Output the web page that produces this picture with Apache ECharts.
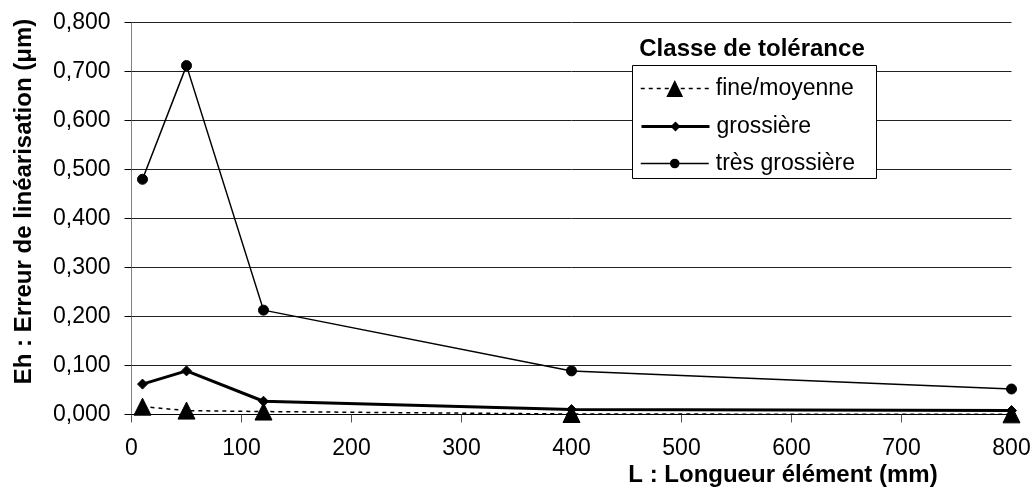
<!DOCTYPE html>
<html>
<head>
<meta charset="utf-8">
<script src="https://cdn.jsdelivr.net/npm/echarts@6/dist/echarts.min.js"></script>
<style>
html,body{margin:0;padding:0;background:#fff;}
#chart{width:1034px;height:491px;}
</style>
</head>
<body>
<div id="chart"></div>
<script>
// ---- data ----
var lengths = [10, 50, 120, 400, 800];
var fineMoyenne = [0.016, 0.008, 0.006, 0.001, 0.0003];
var grossiere = [0.062, 0.089, 0.027, 0.010, 0.008];
var tresGrossiere = [0.480, 0.712, 0.213, 0.089, 0.052];
var seriesNames = ['fine/moyenne', 'grossière', 'très grossière'];
var legendTitle = 'Classe de tolérance';
var xTitle = 'L : Longueur élément (mm)';
var yTitle = 'Eh : Erreur de linéarisation (μm)';

function pairs(ys) { return lengths.map(function (x, i) { return [x, ys[i]]; }); }

var FONT = '"Liberation Sans", Arial, sans-serif';
var chart = echarts.init(document.getElementById('chart'), null, {renderer: 'canvas'});

function legendFor(name, top, itemHeight, lineWidth, lineType) {
  return {
    data: [name], orient: 'vertical', left: 640, top: top, padding: 0,
    itemWidth: 68, itemHeight: itemHeight, itemGap: 0, z: 10,
    selectedMode: false,
    lineStyle: {width: lineWidth, color: '#000', type: lineType},
    textStyle: {fontFamily: FONT, fontSize: 23, color: '#000', padding: [0, 0, 0, 2]}
  };
}

chart.setOption({
  animation: false,
  backgroundColor: '#fff',
  grid: {left: 131.5, top: 22.5, width: 880, height: 392, containLabel: false},
  xAxis: {
    type: 'value', min: 0, max: 800, interval: 100,
    axisLine: {show: true, onZero: false, lineStyle: {color: '#000', width: 1}},
    axisTick: {show: true, inside: false, length: 8, lineStyle: {color: '#555'}},
    axisLabel: {margin: 23, fontFamily: FONT, fontSize: 23, color: '#000'},
    splitLine: {show: false}
  },
  yAxis: {
    type: 'value', min: 0, max: 0.8, interval: 0.1,
    axisLine: {show: true, lineStyle: {color: '#808080', width: 1}},
    axisTick: {show: true, inside: false, length: 7, lineStyle: {color: '#000'}},
    axisLabel: {margin: 21, fontFamily: FONT, fontSize: 23, color: '#000',
      formatter: function (v) { return v.toFixed(3).replace('.', ','); }},
    splitLine: {show: true, lineStyle: {color: '#222', width: 1}}
  },
  legend: [
    legendFor(seriesNames[0], 77, 21, 1.5, [4, 4]),
    legendFor(seriesNames[1], 115, 12.5, 3, 'solid'),
    legendFor(seriesNames[2], 152, 12, 1.5, 'solid')
  ],
  graphic: [
    {type: 'rect', z: 5, shape: {x: 632.5, y: 65.5, width: 244, height: 113},
     style: {fill: '#fff', stroke: '#000', lineWidth: 1}},
    {type: 'text', z: 5, x: 752, y: 49,
     style: {text: legendTitle, font: 'bold 24px ' + FONT, fill: '#000', textAlign: 'center', textVerticalAlign: 'middle'}},
    {type: 'text', z: 5, x: 783, y: 475,
     style: {text: xTitle, font: 'bold 24px ' + FONT, fill: '#000', textAlign: 'center', textVerticalAlign: 'middle'}},
    {type: 'text', z: 5, x: 24, y: 201.5, rotation: Math.PI / 2,
     style: {text: yTitle, font: 'bold 24px ' + FONT, fill: '#000', textAlign: 'center', textVerticalAlign: 'middle'}}
  ],
  series: [
    {name: seriesNames[0], type: 'line', data: pairs(fineMoyenne), z: 4,
     symbol: 'triangle', symbolSize: [17, 17],
     lineStyle: {color: '#000', width: 1.5, type: [4, 4]},
     itemStyle: {color: '#000', borderColor: '#000'}},
    {name: seriesNames[1], type: 'line', data: pairs(grossiere), z: 3,
     symbol: 'diamond', symbolSize: [10, 10],
     lineStyle: {color: '#000', width: 3},
     itemStyle: {color: '#000', borderColor: '#000'}},
    {name: seriesNames[2], type: 'line', data: pairs(tresGrossiere), z: 3,
     symbol: 'circle', symbolSize: 10,
     lineStyle: {color: '#000', width: 1.5},
     itemStyle: {color: '#000', borderColor: '#000'}}
  ]
});
</script>
</body>
</html>
